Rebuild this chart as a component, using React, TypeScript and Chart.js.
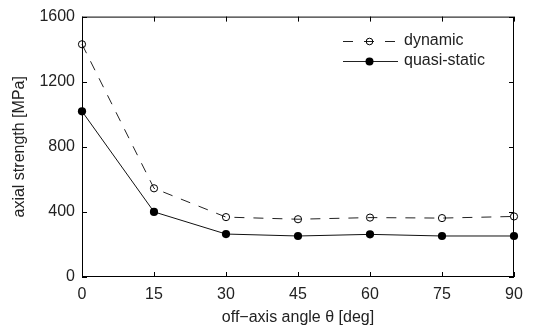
import React, { useEffect, useRef } from "react";
import { Chart, registerables } from "chart.js";

Chart.register(...registerables);

const angles = [0, 15, 30, 45, 60, 75, 90];
const dynamicValues = [1430, 545, 368, 355, 365, 362, 372];
const quasiStaticValues = [1018, 400, 264, 252, 262, 252, 252];
const xTicks = [0, 15, 30, 45, 60, 75, 90];
const yTicks = [0, 400, 800, 1200, 1600];
const seriesLabels = ["dynamic", "quasi-static"];

const FONT = "'Liberation Sans', Arial, Helvetica, sans-serif";

const framePlugin = {
  id: "frame",
  afterDraw(chart: any) {
    const { ctx, chartArea: a, scales } = chart;
    const xs = scales.x;
    const ys = scales.y;
    ctx.save();
    ctx.strokeStyle = "#000";
    ctx.lineWidth = 1;
    ctx.strokeRect(a.left + 0.5, a.top + 0.5, a.right - a.left - 1, a.bottom - a.top - 1);
    const tl = 5;
    ctx.beginPath();
    xTicks.forEach((v) => {
      const px = Math.round(xs.getPixelForValue(v)) + 0.5;
      ctx.moveTo(px, a.bottom);
      ctx.lineTo(px, a.bottom - tl);
      ctx.moveTo(px, a.top);
      ctx.lineTo(px, a.top + tl);
    });
    yTicks.forEach((v) => {
      const py = Math.round(ys.getPixelForValue(v)) + 0.5;
      ctx.moveTo(a.left, py);
      ctx.lineTo(a.left + tl, py);
      ctx.moveTo(a.right, py);
      ctx.lineTo(a.right - tl, py);
    });
    ctx.stroke();

    // legend
    const lx0 = 343;
    const lx1 = 398;
    const rows = [
      { y: 41, dash: [10, 11], filled: false, label: seriesLabels[0] },
      { y: 61, dash: [], filled: true, label: seriesLabels[1] },
    ];
    rows.forEach((r) => {
      ctx.beginPath();
      ctx.setLineDash(r.dash);
      ctx.strokeStyle = "#222";
      ctx.lineWidth = 1;
      ctx.moveTo(lx0, r.y + 0.5);
      ctx.lineTo(lx1, r.y + 0.5);
      ctx.stroke();
      ctx.setLineDash([]);
      ctx.beginPath();
      const cx = 369.5;
      if (r.filled) {
        ctx.fillStyle = "#000";
        ctx.arc(cx, r.y + 0.5, 4, 0, Math.PI * 2);
        ctx.fill();
      } else {
        ctx.strokeStyle = "#000";
        ctx.arc(cx, r.y + 0.5, 3.3, 0, Math.PI * 2);
        ctx.stroke();
      }
      ctx.fillStyle = "#222";
      ctx.font = `16px ${FONT}`;
      ctx.textAlign = "left";
      ctx.textBaseline = "middle";
      ctx.fillText(r.label, 404, r.y);
    });
    ctx.restore();
  },
};

export default function App() {
  const ref = useRef<HTMLCanvasElement | null>(null);
  useEffect(() => {
    document.body.style.margin = "0";
    const chart = new Chart(ref.current as HTMLCanvasElement, {
      type: "line",
      data: {
        datasets: [
          {
            label: seriesLabels[0],
            data: angles.map((x, i) => ({ x, y: dynamicValues[i] })),
            borderColor: "#222",
            borderWidth: 1,
            borderDash: [10, 9],
            pointRadius: 3.6,
            pointBorderWidth: 1,
            pointBorderColor: "#000",
            pointBackgroundColor: "rgba(0,0,0,0)",
            tension: 0,
            clip: false,
          },
          {
            label: seriesLabels[1],
            data: angles.map((x, i) => ({ x, y: quasiStaticValues[i] })),
            borderColor: "#111",
            borderWidth: 1,
            pointRadius: 4.1,
            pointBorderWidth: 0,
            pointBackgroundColor: "#000",
            tension: 0,
            clip: false,
          },
        ],
      },
      options: {
        animation: false,
        responsive: false,
        layout: { padding: { top: 16, right: 21, bottom: 3, left: 0 } },
        plugins: { legend: { display: false }, tooltip: { enabled: false } },
        scales: {
          x: {
            type: "linear",
            min: 0,
            max: 90,
            afterBuildTicks: (s: any) => {
              s.ticks = xTicks.map((v) => ({ value: v }));
            },
            afterFit: (s: any) => {
              s.height = 50;
            },
            grid: { display: false, drawTicks: false },
            border: { display: false },
            ticks: {
              color: "#222",
              font: { family: FONT, size: 16 },
              padding: 8,
              maxRotation: 0,
              callback: (v: any) => String(v),
            },
            title: {
              display: true,
              text: "off−axis angle θ [deg]",
              color: "#222",
              font: { family: FONT, size: 16 },
              padding: { top: 0, bottom: 0 },
            },
          },
          y: {
            type: "linear",
            min: 0,
            max: 1600,
            afterBuildTicks: (s: any) => {
              s.ticks = yTicks.map((v) => ({ value: v }));
            },
            afterFit: (s: any) => {
              s.width = 82;
            },
            grid: { display: false, drawTicks: false },
            border: { display: false },
            ticks: {
              color: "#222",
              font: { family: FONT, size: 16 },
              padding: 7,
              callback: (v: any) => String(v),
            },
            title: {
              display: true,
              text: "axial strength [MPa]",
              color: "#222",
              font: { family: FONT, size: 16 },
              padding: { top: 10, bottom: 0 },
            },
          },
        },
      },
      plugins: [framePlugin],
    } as any);
    return () => chart.destroy();
  }, []);
  return (
    <div style={{ width: 535, height: 330 }}>
      <canvas ref={ref} width={535} height={330} style={{ display: "block" }} />
    </div>
  );
}
